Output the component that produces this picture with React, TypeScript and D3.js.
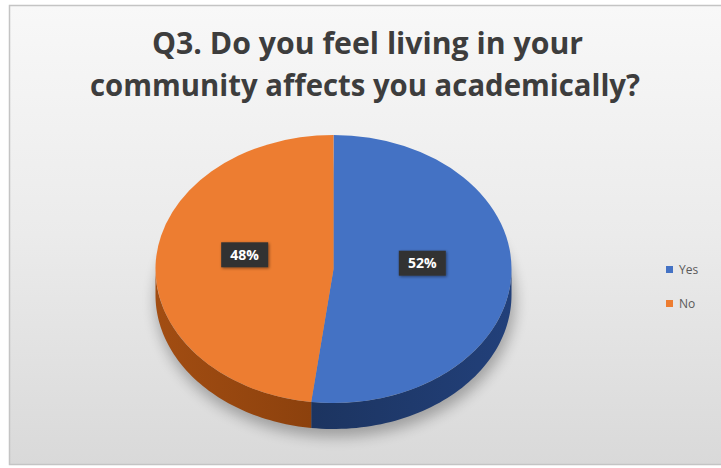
import React from "react";
import * as d3 from "d3";

const titleLines = ["Q3. Do you feel living in your", "community affects you academically?"];
const categories = ["Yes", "No"];
const values = [52, 48];
const topColors = ["#4472C4", "#ED7D31"];
const sideColors = ["#1F3864", "#9A470F"];

const W = 721;
const H = 468;

export default function App() {
  const cx = 333.5;
  const cy = 269;
  const rx = 178;
  const ry = 134;
  const depth = 26;

  const pie = d3
    .pie<number>()
    .sort(null)
    .startAngle(0)
    .endAngle(Math.PI * 2)
    .value((d) => d);
  const arcs = pie(values);
  const total = d3.sum(values);

  const arcGen = d3.arc<d3.PieArcDatum<number>>().innerRadius(0).outerRadius(rx);

  const pt = (a: number, dy = 0): [number, number] => [rx * Math.sin(a), -ry * Math.cos(a) + dy];

  const line = d3.line();

  const sides = arcs
    .map((a, i) => {
      const s = Math.max(a.startAngle, Math.PI / 2);
      const e = Math.min(a.endAngle, (Math.PI * 3) / 2);
      if (e <= s) return null;
      const steps = 60;
      const angs = d3.range(steps + 1).map((k) => s + ((e - s) * k) / steps);
      const top = angs.map((t) => pt(t));
      const bot = angs.slice().reverse().map((t) => pt(t, depth));
      return { i, d: line([...top, ...bot]) + "Z" };
    })
    .filter(Boolean) as { i: number; d: string }[];

  const labelR = 0.5;
  const labels = arcs.map((a, i) => {
    const mid = (a.startAngle + a.endAngle) / 2;
    const [x, y] = [rx * labelR * Math.sin(mid), -ry * labelR * Math.cos(mid)];
    return { x, y: y - 10, text: `${Math.round((values[i] / total) * 100)}%` };
  });

  return (
    <svg
      width={W}
      height={H}
      style={{ position: "absolute", left: 0, top: 0, background: "#ffffff" }}
    >
      <defs>
        <linearGradient id="bg" x1="0" y1="0" x2="0" y2="1">
          <stop offset="0" stopColor="#f8f8f8" />
          <stop offset="0.5" stopColor="#ebebeb" />
          <stop offset="1" stopColor="#d9d9d9" />
        </linearGradient>
        <filter id="shadow" x="-30%" y="-30%" width="160%" height="160%">
          <feGaussianBlur stdDeviation="7" />
        </filter>
        <filter id="lblShadow" x="-30%" y="-30%" width="160%" height="160%">
          <feDropShadow dx="1" dy="1" stdDeviation="1.5" floodColor="#000" floodOpacity="0.45" />
        </filter>
        <linearGradient id="side0" x1="0" y1="0" x2="1" y2="0">
          <stop offset="0" stopColor="#1c3460" />
          <stop offset="1" stopColor="#22407a" />
        </linearGradient>
        <linearGradient id="side1" x1="0" y1="0" x2="1" y2="0">
          <stop offset="0" stopColor="#a24d12" />
          <stop offset="1" stopColor="#8c410d" />
        </linearGradient>
      </defs>

      <rect x={9.5} y={5.5} width={W} height={459} fill="url(#bg)" stroke="#c4c4c4" strokeWidth={1.5} />

      <g fontFamily="'Open Sans', sans-serif" fontWeight={700} fill="#3d3d3d" textAnchor="middle">
        <text x={367.5} y={54} fontSize={30} textLength={431} lengthAdjust="spacingAndGlyphs">
          {titleLines[0]}
        </text>
        <text x={365} y={96} fontSize={30} textLength={550} lengthAdjust="spacingAndGlyphs">
          {titleLines[1]}
        </text>
      </g>

      <ellipse
        cx={cx + 2}
        cy={cy + depth + 6}
        rx={rx + 2}
        ry={ry + 2}
        fill="#000"
        opacity={0.28}
        filter="url(#shadow)"
      />

      <g transform={`translate(${cx},${cy})`}>
        {sides.map((s) => (
          <path key={`s${s.i}`} d={s.d} fill={`url(#side${s.i})`} />
        ))}
        <g transform={`scale(1,${ry / rx})`}>
          {arcs.map((a, i) => (
            <path key={`t${i}`} d={arcGen(a) || ""} fill={topColors[i]} />
          ))}
        </g>
        {labels.map((l, i) => (
          <g key={`l${i}`} transform={`translate(${l.x},${l.y})`}>
            <rect x={-23.5} y={-12.5} width={47} height={25} fill="#333333" filter="url(#lblShadow)" />
            <text
              y={5}
              textAnchor="middle"
              fontFamily="'Open Sans', sans-serif"
              fontWeight={700}
              fontSize={14}
              fill="#ffffff"
            >
              {l.text}
            </text>
          </g>
        ))}
      </g>

      <g fontFamily="'Open Sans', sans-serif" fontSize={12} fill="#595959">
        {categories.map((c, i) => (
          <g key={c} transform={`translate(666,${266 + i * 34})`}>
            <rect x={0} y={0} width={7} height={7} fill={topColors[i]} />
            <text x={13} y={8}>
              {c}
            </text>
          </g>
        ))}
      </g>
    </svg>
  );
}
